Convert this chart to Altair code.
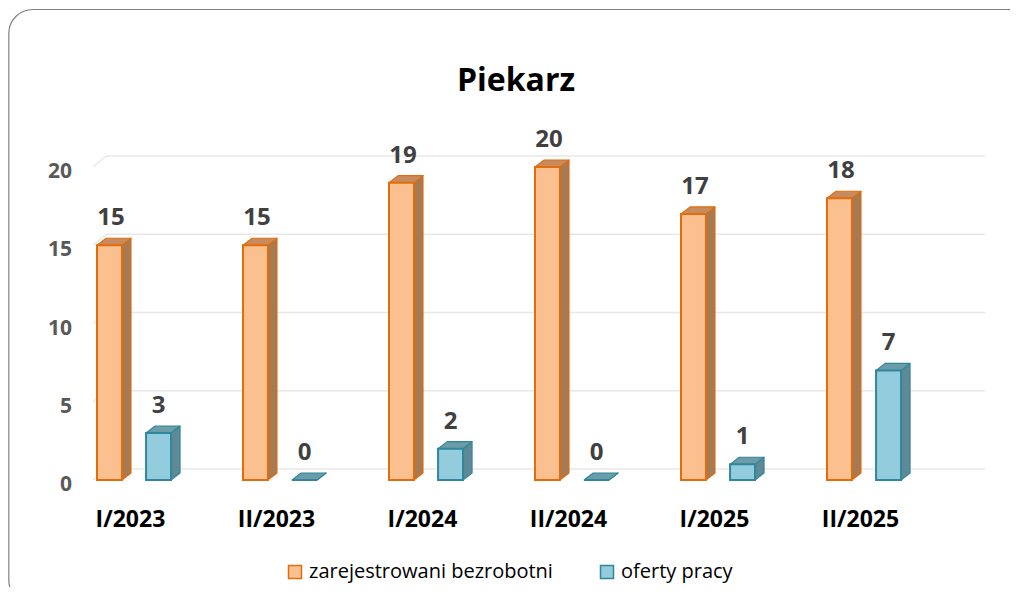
import altair as alt
import pandas as pd

# ---------------- data ----------------
categories = ["I/2023", "II/2023", "I/2024", "II/2024", "I/2025", "II/2025"]
unemployed = [15, 15, 19, 20, 17, 18]
offers = [3, 0, 2, 0, 1, 7]
series_names = ["zarejestrowani bezrobotni", "oferty pracy"]
y_ticks = [0, 5, 10, 15, 20]
title_text = ["Piekarz"]

# ---------------- styles ----------------
FRONT = ["#FAC090", "#93CDDD"]
EDGE = ["#E46C0A", "#31859C"]
SIDE = ["#A67A52", "#5D8A94"]
TOP = ["#C68B5F", "#6B9DA8"]
GRID = "#E8E8E8"
FONT = "Open Sans"

# layout: x in category-slot units, y in value units
BAR_W = 0.171
SERIES_OFF = [0.0, 0.336]
DX = 0.062      # bar depth (x)
DY = 0.45       # bar depth (y)
GX0, GX1, GX_END, GDY = -0.027, 0.062, 6.082, 0.70
CAT_LABEL_OFF = 0.229

xs = alt.Scale(domain=[0, 6], range=[89, 965])
ys = alt.Scale(domain=[0, 20], range=[472, 159])

rows = []
for i, c in enumerate(categories):
    for s, vals in enumerate([unemployed, offers]):
        rows.append({"cat": c, "idx": i, "s": s, "series": series_names[s], "value": vals[i]})
df = pd.DataFrame(rows)

base = alt.Chart(df).transform_calculate(
    x0=f"datum.idx + (datum.s == 0 ? {SERIES_OFF[0]} : {SERIES_OFF[1]})"
).transform_calculate(
    x1=f"datum.x0 + {BAR_W}",
    xc=f"datum.x0 + {BAR_W / 2} + (datum.s == 0 ? 0.01 : 0)",
    zero="0",
)

layers = []

# frame
frame = alt.Chart(pd.DataFrame({"a": [0]})).mark_rect(
    fill="#ffffff", fillOpacity=0, stroke="#808080", strokeWidth=1.2, cornerRadius=24
).encode(x=alt.value(0.8), x2=alt.value(1023), y=alt.value(1.5), y2=alt.value(596))
layers.append(frame)

# gridlines
gdf = pd.DataFrame({"v": y_ticks})
grid_base = alt.Chart(gdf).transform_calculate(
    gx0=f"{GX0}", gx1=f"{GX1}", gxe=f"{GX_END}", vb=f"datum.v + {GDY}"
)
grid_slant = grid_base.mark_rule(color=GRID, strokeWidth=1.5).encode(
    x=alt.X("gx0:Q", scale=xs, axis=None), x2="gx1:Q",
    y=alt.Y("v:Q", scale=ys, axis=None), y2="vb:Q",
)
grid_h = grid_base.mark_rule(color=GRID, strokeWidth=1.5).encode(
    x=alt.X("gx1:Q", scale=xs, axis=None), x2="gxe:Q",
    y=alt.Y("vb:Q", scale=ys, axis=None),
)
layers += [grid_slant, grid_h]

# y tick labels
ytl = alt.Chart(gdf).mark_text(
    align="right", baseline="alphabetic", dy=11, font=FONT, fontWeight="bold",
    fontSize=21, color="#595959"
).encode(x=alt.value(64), y=alt.Y("v:Q", scale=ys, axis=None), text=alt.Text("v:Q", format="d"))
layers.append(ytl)

# bars: side & top faces
for s in range(2):
    fb = base.transform_filter(f"datum.s == {s}").transform_calculate(
        t="[0, 1]"
    ).transform_flatten(["t"]).transform_calculate(
        sx=f"datum.x1 + datum.t * {DX}",
        sy=f"datum.value + datum.t * {DY}",
        sy2=f"datum.t * {DY}",
        tx=f"datum.x0 + datum.t * {DX}",
        tx2=f"datum.x1 + datum.t * {DX}",
    )
    side = fb.mark_area(
        orient="vertical", fill=SIDE[s], stroke=EDGE[s], strokeWidth=1.1, strokeJoin="round"
    ).encode(
        x=alt.X("sx:Q", scale=xs, axis=None),
        y=alt.Y("sy:Q", scale=ys, axis=None), y2="sy2:Q",
        detail="idx:N",
    )
    top = fb.mark_area(
        orient="horizontal", fill=TOP[s], stroke=EDGE[s], strokeWidth=1.1, strokeJoin="round"
    ).encode(
        y=alt.Y("sy:Q", scale=ys, axis=None),
        x=alt.X("tx:Q", scale=xs, axis=None), x2="tx2:Q",
        detail="idx:N",
    )
    layers += [side, top]

legend = alt.Legend(
    orient="none", legendX=277, legendY=554, direction="horizontal", title=None,
    symbolType="square", symbolSize=169, symbolStrokeWidth=1.5,
    labelFont=FONT, labelFontSize=20, labelColor="#000000", labelOffset=4,
    columnPadding=44, labelLimit=500,
)

front = base.mark_rect(strokeWidth=2).encode(
    x=alt.X("x0:Q", scale=xs, axis=None), x2="x1:Q",
    y=alt.Y("value:Q", scale=ys, axis=None), y2="zero:Q",
    fill=alt.Fill("series:N", scale=alt.Scale(domain=series_names, range=FRONT), legend=legend),
    stroke=alt.Stroke("series:N", scale=alt.Scale(domain=series_names, range=EDGE), legend=legend),
)
layers.append(front)

# value labels
vlab = base.mark_text(
    baseline="alphabetic", dy=-20, font=FONT, fontWeight="bold", fontSize=24, color="#404040"
).encode(
    x=alt.X("xc:Q", scale=xs, axis=None), y=alt.Y("value:Q", scale=ys, axis=None),
    text=alt.Text("value:Q", format="d"),
)
layers.append(vlab)

# category labels
cdf = pd.DataFrame({"cat": categories, "idx": list(range(len(categories)))})
clab = alt.Chart(cdf).transform_calculate(cx=f"datum.idx + {CAT_LABEL_OFF}").mark_text(
    baseline="alphabetic", font=FONT, fontWeight="bold", fontSize=23, color="#000000"
).encode(x=alt.X("cx:Q", scale=xs, axis=None), y=alt.value(519), text="cat:N")
layers.append(clab)

# title
ttl = alt.Chart(pd.DataFrame({"t": title_text})).mark_text(
    baseline="alphabetic", font=FONT, fontWeight="bold", fontSize=32, color="#000000"
).encode(x=alt.value(508), y=alt.value(83), text="t:N")
layers.append(ttl)

chart = alt.layer(*layers).properties(
    width=1002, height=579, autosize=alt.AutoSizeParams(type="none"), padding=0
).configure_view(strokeWidth=0)

chart.save("out.html", embed_options={"renderer": "svg", "actions": False})
